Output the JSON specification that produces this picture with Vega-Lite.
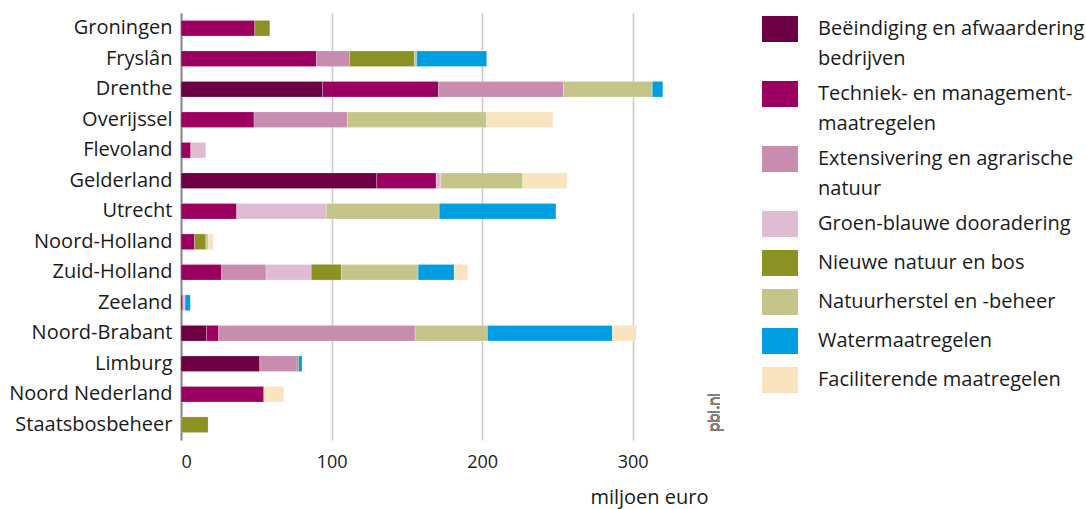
{
  "$schema": "https://vega.github.io/schema/vega-lite/v6.json",
  "width": 527,
  "height": 427,
  "autosize": {"type": "none"},
  "padding": {"left": 181, "top": 13, "right": 378, "bottom": 69},
  "background": "white",
  "config": {
    "view": {"stroke": null},
    "font": "Open Sans",
    "axis": {"labelFont": "Open Sans", "titleFont": "Open Sans"},
    "legend": {"labelFont": "Open Sans"},
    "style": {"guide-label": {"lineHeight": 30}}
  },
  "data": {
    "values": [
      {"regio": "Groningen", "maatregel": "Techniek- en managementmaatregelen", "waarde": 49},
      {"regio": "Groningen", "maatregel": "Nieuwe natuur en bos", "waarde": 10},
      {"regio": "Fryslân", "maatregel": "Techniek- en managementmaatregelen", "waarde": 90},
      {"regio": "Fryslân", "maatregel": "Extensivering en agrarische natuur", "waarde": 22},
      {"regio": "Fryslân", "maatregel": "Nieuwe natuur en bos", "waarde": 43},
      {"regio": "Fryslân", "maatregel": "Natuurherstel en -beheer", "waarde": 1.5},
      {"regio": "Fryslân", "maatregel": "Watermaatregelen", "waarde": 46.5},
      {"regio": "Drenthe", "maatregel": "Beëindiging en afwaardering bedrijven", "waarde": 94},
      {"regio": "Drenthe", "maatregel": "Techniek- en managementmaatregelen", "waarde": 77},
      {"regio": "Drenthe", "maatregel": "Extensivering en agrarische natuur", "waarde": 83},
      {"regio": "Drenthe", "maatregel": "Natuurherstel en -beheer", "waarde": 59},
      {"regio": "Drenthe", "maatregel": "Watermaatregelen", "waarde": 7},
      {"regio": "Overijssel", "maatregel": "Techniek- en managementmaatregelen", "waarde": 48.5},
      {"regio": "Overijssel", "maatregel": "Extensivering en agrarische natuur", "waarde": 62},
      {"regio": "Overijssel", "maatregel": "Natuurherstel en -beheer", "waarde": 92.5},
      {"regio": "Overijssel", "maatregel": "Faciliterende maatregelen", "waarde": 44},
      {"regio": "Flevoland", "maatregel": "Techniek- en managementmaatregelen", "waarde": 6.5},
      {"regio": "Flevoland", "maatregel": "Groen-blauwe dooradering", "waarde": 10},
      {"regio": "Gelderland", "maatregel": "Beëindiging en afwaardering bedrijven", "waarde": 130},
      {"regio": "Gelderland", "maatregel": "Techniek- en managementmaatregelen", "waarde": 39.5},
      {"regio": "Gelderland", "maatregel": "Groen-blauwe dooradering", "waarde": 3},
      {"regio": "Gelderland", "maatregel": "Natuurherstel en -beheer", "waarde": 54.5},
      {"regio": "Gelderland", "maatregel": "Faciliterende maatregelen", "waarde": 29.5},
      {"regio": "Utrecht", "maatregel": "Techniek- en managementmaatregelen", "waarde": 37},
      {"regio": "Utrecht", "maatregel": "Groen-blauwe dooradering", "waarde": 59.5},
      {"regio": "Utrecht", "maatregel": "Natuurherstel en -beheer", "waarde": 75},
      {"regio": "Utrecht", "maatregel": "Watermaatregelen", "waarde": 77.5},
      {"regio": "Noord-Holland", "maatregel": "Techniek- en managementmaatregelen", "waarde": 9},
      {"regio": "Noord-Holland", "maatregel": "Nieuwe natuur en bos", "waarde": 7.5},
      {"regio": "Noord-Holland", "maatregel": "Natuurherstel en -beheer", "waarde": 1.5},
      {"regio": "Noord-Holland", "maatregel": "Faciliterende maatregelen", "waarde": 3.5},
      {"regio": "Zuid-Holland", "maatregel": "Techniek- en managementmaatregelen", "waarde": 27},
      {"regio": "Zuid-Holland", "maatregel": "Extensivering en agrarische natuur", "waarde": 29.5},
      {"regio": "Zuid-Holland", "maatregel": "Groen-blauwe dooradering", "waarde": 30},
      {"regio": "Zuid-Holland", "maatregel": "Nieuwe natuur en bos", "waarde": 20},
      {"regio": "Zuid-Holland", "maatregel": "Natuurherstel en -beheer", "waarde": 51},
      {"regio": "Zuid-Holland", "maatregel": "Watermaatregelen", "waarde": 24},
      {"regio": "Zuid-Holland", "maatregel": "Faciliterende maatregelen", "waarde": 9},
      {"regio": "Zeeland", "maatregel": "Techniek- en managementmaatregelen", "waarde": 1.2},
      {"regio": "Zeeland", "maatregel": "Groen-blauwe dooradering", "waarde": 1.5},
      {"regio": "Zeeland", "maatregel": "Watermaatregelen", "waarde": 3.5},
      {"regio": "Noord-Brabant", "maatregel": "Beëindiging en afwaardering bedrijven", "waarde": 17},
      {"regio": "Noord-Brabant", "maatregel": "Techniek- en managementmaatregelen", "waarde": 8},
      {"regio": "Noord-Brabant", "maatregel": "Extensivering en agrarische natuur", "waarde": 130.5},
      {"regio": "Noord-Brabant", "maatregel": "Natuurherstel en -beheer", "waarde": 48},
      {"regio": "Noord-Brabant", "maatregel": "Watermaatregelen", "waarde": 83},
      {"regio": "Noord-Brabant", "maatregel": "Faciliterende maatregelen", "waarde": 16},
      {"regio": "Limburg", "maatregel": "Beëindiging en afwaardering bedrijven", "waarde": 52.3},
      {"regio": "Limburg", "maatregel": "Extensivering en agrarische natuur", "waarde": 24.8},
      {"regio": "Limburg", "maatregel": "Nieuwe natuur en bos", "waarde": 1.1},
      {"regio": "Limburg", "maatregel": "Watermaatregelen", "waarde": 2.2},
      {"regio": "Noord Nederland", "maatregel": "Techniek- en managementmaatregelen", "waarde": 55},
      {"regio": "Noord Nederland", "maatregel": "Faciliterende maatregelen", "waarde": 13.3},
      {"regio": "Staatsbosbeheer", "maatregel": "Nieuwe natuur en bos", "waarde": 18}
    ]
  },
  "layer": [
    {
      "transform": [
        {"calculate": "indexof(['Beëindiging en afwaardering bedrijven', 'Techniek- en managementmaatregelen', 'Extensivering en agrarische natuur', 'Groen-blauwe dooradering', 'Nieuwe natuur en bos', 'Natuurherstel en -beheer', 'Watermaatregelen', 'Faciliterende maatregelen'], datum.maatregel)", "as": "volgorde"}
      ],
      "mark": {"type": "bar", "stroke": "white", "strokeWidth": 0.4, "strokeOpacity": 0.6},
      "encoding": {
        "y": {
          "field": "regio",
          "type": "nominal",
          "sort": ["Groningen", "Fryslân", "Drenthe", "Overijssel", "Flevoland", "Gelderland", "Utrecht", "Noord-Holland", "Zuid-Holland", "Zeeland", "Noord-Brabant", "Limburg", "Noord Nederland", "Staatsbosbeheer"],
          "scale": {"paddingInner": 0.485, "paddingOuter": 0.2425},
          "axis": {
            "title": null,
            "ticks": false,
            "domainColor": "#8a8a8a",
            "domainWidth": 2,
            "labelFontSize": 20,
            "labelColor": "#1a1a1a",
            "labelPadding": 9
          }
        },
        "x": {
          "field": "waarde",
          "type": "quantitative",
          "stack": "zero",
          "scale": {"domain": [0, 350], "nice": false},
          "axis": {
            "values": [0, 100, 200, 300],
            "title": "miljoen euro",
            "titleAnchor": "end",
            "titleAlign": "right",
            "titleFontSize": 20,
            "titleFontWeight": "normal",
            "titleColor": "#1a1a1a",
            "titlePadding": 16,
            "domain": false,
            "ticks": false,
            "labelFontSize": 18,
            "labelColor": "#1a1a1a",
            "labelPadding": 13,
            "gridColor": "#c8c8c8",
            "gridWidth": 1.5
          }
        },
        "order": {"field": "volgorde", "type": "quantitative", "sort": "ascending"},
        "color": {
          "field": "maatregel",
          "type": "nominal",
          "scale": {
            "domain": ["Beëindiging en afwaardering bedrijven", "Techniek- en managementmaatregelen", "Extensivering en agrarische natuur", "Groen-blauwe dooradering", "Nieuwe natuur en bos", "Natuurherstel en -beheer", "Watermaatregelen", "Faciliterende maatregelen"],
            "range": ["#6d0043", "#9b0061", "#c88caf", "#dfbcd3", "#8c9123", "#c5c58a", "#009ee0", "#f8e5c0"]
          },
          "legend": {
            "title": null,
            "orient": "none",
            "legendX": 581,
            "legendY": 4,
            "symbolType": "M-1,-1.05H1V0.39H-1Z",
            "symbolSize": 1296,
            "symbolStrokeWidth": 0,
            "symbolOpacity": 1,
            "labelFontSize": 20,
            "labelColor": "#1a1a1a",
            "labelOffset": 20,
            "labelLimit": 400,
            "labelBaseline": "alphabetic",
            "rowPadding": 12,
            "labelExpr": "datum.label == 'Beëindiging en afwaardering bedrijven' ? ['Beëindiging en afwaardering', 'bedrijven'] : datum.label == 'Techniek- en managementmaatregelen' ? ['Techniek- en management-', 'maatregelen'] : datum.label == 'Extensivering en agrarische natuur' ? ['Extensivering en agrarische', 'natuur'] : datum.label"
          }
        }
      }
    },
    {
      "mark": {"type": "text", "angle": 270, "align": "left", "baseline": "top", "dx": -7, "dy": -1, "fontSize": 15, "fontWeight": "normal", "fill": "#808080", "font": "Open Sans"},
      "encoding": {
        "x": {"datum": 350, "type": "quantitative"},
        "y": {"datum": "Staatsbosbeheer", "type": "nominal"},
        "text": {"value": "pbl.nl"}
      }
    }
  ]
}
